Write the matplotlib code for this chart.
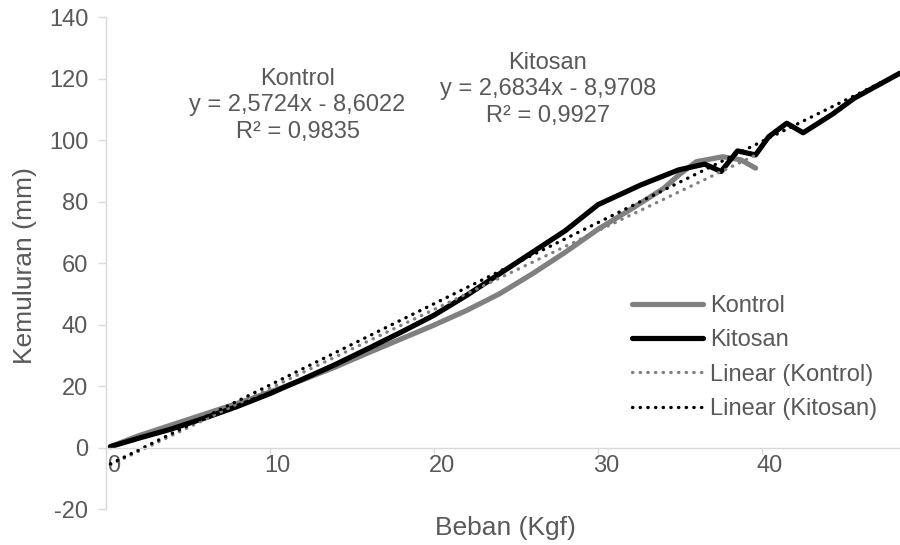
import numpy as np
import matplotlib.pyplot as plt
import matplotlib.transforms as mtransforms

plt.rcParams['font.family'] = ['Liberation Sans', 'DejaVu Sans']
plt.rcParams['axes.unicode_minus'] = False

# values
kontrol_x = [0.3, 2, 4, 6, 8, 10, 12, 14, 16, 18, 20, 22, 24, 26, 28, 30,
             32, 34, 35, 36, 37.6, 38.7, 39.6]
kontrol_y = [0.3, 3.8, 7.3, 10.8, 14.3, 18.0, 22.0, 26.2, 30.8, 35.3, 39.8,
             44.6, 50.0, 56.5, 63.5, 71.0, 77.5, 84.3, 89.0, 93.0, 94.6, 93.6, 90.9]

kitosan_x = [0.3, 2, 4, 6, 8, 10, 12, 14, 16, 18, 20, 22, 24, 26, 28, 30,
             31.3, 32.6, 34.9, 36.5, 37.5, 38.5, 39.6, 40.4, 41.5, 42.5,
             44.3, 45.6, 48.4]
kitosan_y = [0.3, 3.0, 6.0, 9.5, 13.3, 17.5, 22.2, 27.0, 32.2, 37.5, 43.0,
             49.5, 56.5, 63.5, 70.5, 79.0, 82.2, 85.4, 90.3, 92.2, 89.8, 96.5,
             95.2, 101.1, 105.5, 102.4, 108.5, 113.6, 121.8]

x_ticks = [0, 10, 20, 30, 40]
y_ticks = [-20, 0, 20, 40, 60, 80, 100, 120, 140]

eq_kontrol = "Kontrol\ny = 2,5724x - 8,6022\nR² = 0,9835"
eq_kitosan = "Kitosan\ny = 2,6834x - 8,9708\nR² = 0,9927"

TEXT = '#595959'
AXIS = '#d9d9d9'
GRAY = '#808080'
FS = 17
FS_TITLE = 19

fig = plt.figure(figsize=(9, 5.45), dpi=100)
ax = fig.add_axes([105.5 / 900, 1 - 509 / 545, 1 - 105.5 / 900, (509 - 17.2) / 545])

ax.plot(kontrol_x, kontrol_y, color=GRAY, lw=3.75, solid_capstyle='round',
        solid_joinstyle='round', label='Kontrol')
ax.plot(kitosan_x, kitosan_y, color='black', lw=3.75, solid_capstyle='round',
        solid_joinstyle='round', label='Kitosan')

# linear trendlines (least squares, like Excel)
for xs, ys, col, name in [(kontrol_x, kontrol_y, GRAY, 'Linear (Kontrol)'),
                          (kitosan_x, kitosan_y, 'black', 'Linear (Kitosan)')]:
    m, b = np.polyfit(xs, ys, 1)
    xx = np.array([min(xs), max(xs)])
    ax.plot(xx, m * xx + b, color=col, lw=2.4, linestyle=(0, (0.1, 2.2)),
            dash_capstyle='round', label=name)

ax.set_xlim(0, 48.4)
ax.set_ylim(-20, 140)
ax.set_xticks(x_ticks)
ax.set_yticks(y_ticks)

for s in ['top', 'right']:
    ax.spines[s].set_visible(False)
ax.spines['bottom'].set_position(('data', 0))
ax.spines['left'].set_color(AXIS)
ax.spines['bottom'].set_color(AXIS)
ax.spines['left'].set_linewidth(1.0)
ax.spines['bottom'].set_linewidth(1.0)
ax.tick_params(axis='both', colors=AXIS, labelcolor=TEXT, labelsize=FS, width=1.0)
ax.tick_params(axis='y', length=5.5, pad=7)
ax.tick_params(axis='x', length=4.5, pad=1)

offset = mtransforms.ScaledTranslation(8 / 100, 0, fig.dpi_scale_trans)
for lab in ax.get_xticklabels():
    lab.set_transform(lab.get_transform() + offset)

ax.text(11.7, 111.4, eq_kontrol, ha='center', va='center', color=TEXT,
        fontsize=FS, linespacing=1.27)
ax.text(26.95, 116.6, eq_kitosan, ha='center', va='center', color=TEXT,
        fontsize=FS, linespacing=1.27)

fig.text(505 / 900, 1 - 528 / 545, 'Beban (Kgf)', ha='center', va='center',
         color=TEXT, fontsize=FS_TITLE)
fig.text(25 / 900, 1 - 266 / 545, 'Kemuluran (mm)', ha='center', va='center',
         rotation=90, color=TEXT, fontsize=FS_TITLE)

leg = ax.legend(loc='upper left', bbox_to_anchor=(632 / 900, 1 - 295 / 545),
                bbox_transform=fig.transFigure, frameon=False, fontsize=FS,
                handlelength=3.0, handletextpad=0.3, labelspacing=0.52,
                borderpad=0, borderaxespad=0)
for t in leg.get_texts():
    t.set_color(TEXT)

fig.savefig('out.png', dpi=100)
